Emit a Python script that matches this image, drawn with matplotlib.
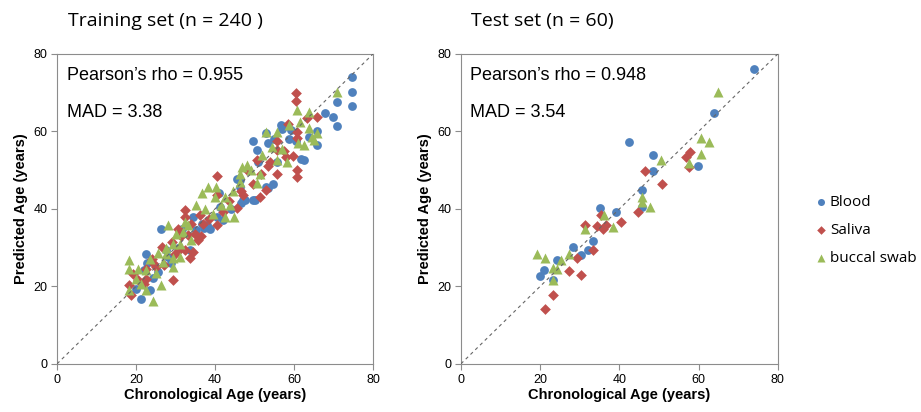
import matplotlib.pyplot as plt

# ---- training set ----
train_blood_x = [74.7, 74.7, 74.7, 70.9, 70.9, 69.8, 67.8, 65.8, 65.8, 61.7, 58.7, 56.8, 53.4, 49.6, 50.6,
                 52.9, 55.7, 54.7, 53.0, 49.6, 46.6, 45.5, 46.2, 47.7, 41.3, 40.6, 38.7, 35.3, 26.4, 31.7,
                 33.6, 27.7, 22.4, 22.1, 24.3, 20.0, 21.3, 23.6, 28.9, 37.9, 42.1, 59.2, 63.8,
                 22.8, 25.5, 36.6, 37.3, 47.2, 50.2, 46.3, 53.4, 60.6, 62.5, 57.0, 44.0, 30.5, 28.0,
                 41.0, 34.5, 51.0, 55.0]
train_blood_y = [74.0, 70.2, 66.6, 67.5, 61.3, 63.7, 64.7, 60.1, 56.5, 52.9, 58.1, 61.6, 57.1, 57.6, 55.3,
                 59.7, 52.0, 46.4, 45.7, 42.2, 41.4, 47.8, 45.7, 42.2, 40.5, 37.9, 34.9, 34.5, 34.7, 34.9,
                 29.3, 29.3, 28.3, 24.1, 22.2, 19.4, 16.8, 19.1, 25.9, 35.8, 37.1, 60.3, 58.6,
                 26.0, 23.8, 36.2, 35.0, 42.2, 42.3, 47.5, 45.5, 57.5, 52.5, 60.5, 40.0, 30.0, 27.5,
                 44.0, 38.0, 52.0, 58.0]

train_saliva_x = [60.6, 60.6, 65.8, 63.4, 60.7, 60.7, 55.7, 55.7, 60.7, 60.7, 59.8, 57.9, 54.0, 50.6, 55.6,
                  51.7, 53.0, 51.5, 47.2, 40.6, 40.6, 45.5, 42.1, 40.6, 36.2, 37.0, 32.3, 32.3, 30.6, 33.2,
                  34.9, 35.7, 31.1, 32.3, 34.5, 33.6, 26.6, 29.8, 24.4, 22.6, 25.1, 29.4, 19.1, 20.4, 18.7,
                  18.3, 21.9,
                  24.0, 27.0, 31.5, 36.5, 38.5, 43.5, 46.5, 49.5, 53.5, 57.5, 58.5, 22.5, 29.0, 33.8, 48.0]
train_saliva_y = [69.8, 67.9, 63.8, 63.4, 59.9, 58.4, 57.6, 55.3, 50.0, 48.3, 53.6, 53.4, 52.2, 52.6, 49.1,
                  49.1, 45.0, 43.1, 43.5, 48.4, 43.5, 40.1, 39.2, 35.8, 38.4, 36.2, 39.7, 37.9, 34.9, 33.2,
                  33.6, 31.9, 29.7, 29.3, 28.9, 27.2, 30.2, 28.4, 26.0, 24.6, 25.0, 21.6, 23.1, 21.6, 17.7,
                  20.3, 20.7,
                  27.0, 25.5, 33.0, 33.0, 37.5, 42.0, 44.5, 46.5, 51.0, 55.0, 62.0, 22.0, 31.5, 36.0, 50.0]

train_swab_x = [70.9, 63.8, 60.7, 63.8, 65.9, 65.1, 62.6, 60.9, 58.7, 55.6, 52.8, 55.7, 58.3, 51.5, 48.1,
                46.8, 46.2, 50.6, 46.2, 40.3, 38.3, 36.6, 40.0, 42.6, 43.8, 39.6, 42.6, 44.7, 35.3, 28.1,
                33.2, 31.9, 29.4, 31.1, 25.5, 27.7, 29.4, 31.1, 26.8, 29.4, 18.3, 18.3, 22.4, 25.1, 21.3,
                18.3, 22.4, 26.4, 24.3, 20.0,
                20.5, 23.5, 27.5, 32.5, 34.0, 37.5, 41.5, 44.5, 49.0, 52.0, 54.5, 57.0, 61.5, 64.5, 30.0]
train_swab_y = [70.3, 65.1, 65.5, 60.8, 59.5, 57.8, 56.5, 56.9, 61.6, 59.9, 59.9, 52.6, 52.2, 49.1, 51.3,
                50.9, 49.1, 46.6, 47.0, 45.7, 45.7, 44.0, 43.1, 43.1, 40.9, 38.8, 37.9, 37.9, 40.9, 35.8,
                35.8, 34.1, 31.0, 31.0, 28.6, 28.4, 27.2, 27.6, 26.3, 25.0, 26.9, 24.6, 24.1, 23.4, 20.7,
                19.1, 19.0, 20.3, 16.2, 22.0,
                24.5, 27.0, 30.0, 36.5, 32.0, 40.0, 41.0, 44.5, 50.0, 54.0, 56.0, 55.5, 62.5, 58.5, 33.5]

# ---- test set ----
test_blood_x = [74.0, 63.8, 42.4, 48.4, 48.6, 59.8, 45.6, 45.6, 39.2, 35.2, 33.3, 32.0, 30.3, 28.2, 24.2,
                21.0, 19.9, 23.3]
test_blood_y = [76.1, 64.8, 57.2, 53.8, 49.7, 51.2, 44.8, 40.5, 39.1, 40.3, 31.7, 29.3, 28.0, 30.2, 26.7,
                24.3, 22.6, 21.7]

test_saliva_x = [57.9, 56.8, 57.7, 46.5, 50.7, 44.6, 40.5, 35.4, 36.5, 34.4, 31.2, 35.8, 33.3, 29.3, 27.2,
                 30.3, 23.3, 21.2]
test_saliva_y = [54.7, 53.3, 50.7, 49.7, 46.4, 39.1, 36.5, 38.4, 35.8, 35.6, 35.8, 34.7, 29.3, 27.4, 24.0,
                 22.8, 17.7, 14.2]

test_swab_x = [64.9, 60.7, 62.7, 60.7, 57.6, 50.5, 45.6, 45.6, 47.7, 36.2, 38.4, 31.3, 27.2, 25.2, 19.1,
               21.1, 23.3, 24.2, 23.3]
test_swab_y = [70.3, 58.4, 57.3, 54.3, 51.9, 52.6, 43.1, 41.8, 40.5, 38.5, 35.3, 34.7, 28.3, 26.9, 28.3,
               27.2, 24.8, 24.6, 21.7]

groups = ["Blood", "Saliva", "buccal swab"]
titles = ["Training set (n = 240 )", "Test set (n = 60)"]
stats = [("0.955", "3.38"), ("0.948", "3.54")]
ticks = [0, 20, 40, 60, 80]

colors = ["#4F81BD", "#C0504D", "#9BBB59"]
markers = ["o", "D", "^"]
sizes = [40, 30, 52]

fig = plt.figure(figsize=(9.21, 4.12), dpi=100)
ax1 = fig.add_axes([0.062, 0.117, 0.343, 0.752])
ax2 = fig.add_axes([0.5005, 0.117, 0.344, 0.752])

panels = [
    (ax1, [(train_blood_x, train_blood_y), (train_saliva_x, train_saliva_y), (train_swab_x, train_swab_y)]),
    (ax2, [(test_blood_x, test_blood_y), (test_saliva_x, test_saliva_y), (test_swab_x, test_swab_y)]),
]

for i, (ax, data) in enumerate(panels):
    ax.plot([0, 80], [0, 80], linestyle=(0, (3, 3)), color="#666666", linewidth=0.8, zorder=3)
    for (x, y), name, c, m, s in zip(data, groups, colors, markers, sizes):
        ax.scatter(x, y, s=s, color=c, marker=m, linewidths=0, label=name, zorder=2)
    ax.set_xlim(0, 80)
    ax.set_ylim(0, 80)
    ax.set_xticks(ticks)
    ax.set_yticks(ticks)
    for sp in ax.spines.values():
        sp.set_color("#8C8C8C")
    ax.tick_params(direction="out", length=4, color="#8C8C8C", labelsize=9, pad=3)
    for lab in ax.get_xticklabels() + ax.get_yticklabels():
        lab.set_fontfamily("Liberation Sans")
    ax.set_xlabel("Chronological Age (years)", fontsize=10.5, fontweight="bold",
                  fontfamily="Liberation Sans", labelpad=2)
    ax.set_ylabel("Predicted Age (years)", fontsize=10.5, fontweight="bold",
                  fontfamily="Liberation Sans", labelpad=4)
    ax.text(0.03, 0.93, "Pearson\u2019s rho = " + stats[i][0], transform=ax.transAxes,
            fontsize=13, fontfamily="Liberation Sans", va="center")
    ax.text(0.03, 0.81, "MAD = " + stats[i][1], transform=ax.transAxes,
            fontsize=13, fontfamily="Liberation Sans", va="center")

fig.text(0.074, 0.948, titles[0], fontsize=14, fontfamily="Open Sans", va="center")
fig.text(0.511, 0.948, titles[1], fontsize=14, fontfamily="Open Sans", va="center")

handles, labels = ax2.get_legend_handles_labels()
fig.legend(handles, labels, loc="center left", bbox_to_anchor=(0.868, 0.44), frameon=False,
           prop={"family": "Open Sans", "size": 11}, handletextpad=0.1, labelspacing=0.85,
           markerscale=0.8, handlelength=1.0)

fig.savefig("out.png", dpi=100)
